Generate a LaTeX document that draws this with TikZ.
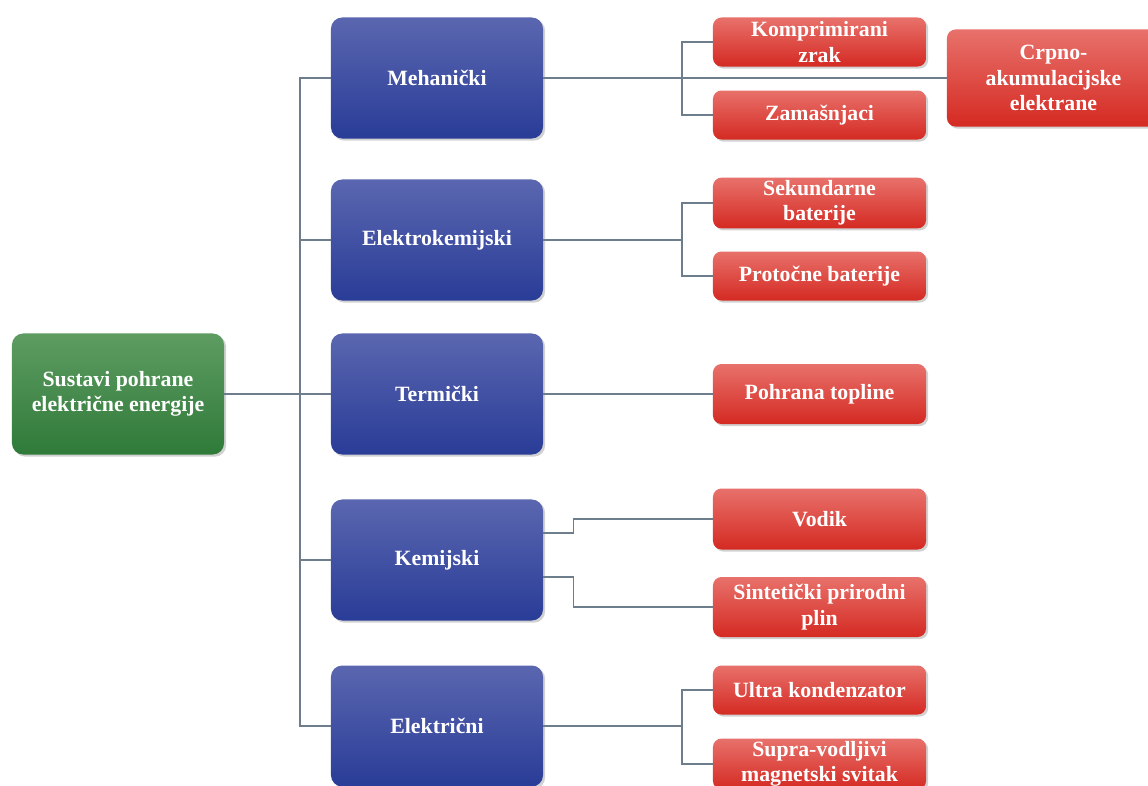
\documentclass[tikz,border=0pt]{standalone}
\usepackage{fontspec}
\setmainfont{Liberation Serif}
\usetikzlibrary{shadows}

\definecolor{zelenaGore}{HTML}{5E9C62}
\definecolor{zelenaDolje}{HTML}{2F7A39}
\definecolor{plavaGore}{HTML}{5A66AF}
\definecolor{plavaDolje}{HTML}{293C97}
\definecolor{crvenaGore}{HTML}{E8716B}
\definecolor{crvenaDolje}{HTML}{D42A22}
\definecolor{linija}{HTML}{6E7D8C}

\begin{document}
\begin{tikzpicture}[x=0.025cm,y=-0.025cm,
    kutija/.style={rounded corners=8pt, text=white, align=center, inner sep=2pt,
      font=\bfseries\fontsize{15.5}{18}\selectfont,
      drop shadow={shadow xshift=1.5pt, shadow yshift=-1.5pt, fill=black!40, opacity=0.45}},
    korijen/.style={kutija, top color=zelenaGore, bottom color=zelenaDolje,
      minimum width=5.3cm, minimum height=3.025cm},
    vrsta/.style={kutija, top color=plavaGore, bottom color=plavaDolje,
      minimum width=5.3cm, minimum height=3.025cm},
    tehnologija/.style={kutija, rounded corners=6pt, top color=crvenaGore, bottom color=crvenaDolje,
      minimum width=5.325cm, minimum height=1.225cm},
    veza/.style={draw=linija, line width=0.8pt}
  ]
  \useasboundingbox (0,0) rectangle (1148,785);

  % Glavni cvor
  \node[korijen] (sustavi) at (118,394) {Sustavi pohrane\\električne energije};

  % Vrste pohrane
  \node[vrsta] (meh) at (437,78) {Mehanički};
  \node[vrsta] (ekem) at (437,240) {Elektrokemijski};
  \node[vrsta] (term) at (437,394) {Termički};
  \node[vrsta] (kem) at (437,560) {Kemijski};
  \node[vrsta] (elek) at (437,726) {Električni};

  % Tehnologije
  \node[tehnologija] (zrak) at (819.5,42) {Komprimirani\\zrak};
  \node[tehnologija] (zam) at (819.5,115) {Zamašnjaci};
  \node[tehnologija, minimum width=5.325cm, minimum height=2.425cm] (crpno) at (1053.5,78)
    {Crpno-\\akumulacijske\\elektrane};
  \node[tehnologija] (sek) at (819.5,203) {Sekundarne\\baterije};
  \node[tehnologija] (prot) at (819.5,276) {Protočne baterije};
  \node[tehnologija, minimum height=1.5cm] (toplina) at (819.5,394) {Pohrana topline};
  \node[tehnologija, minimum height=1.525cm] (vodik) at (819.5,519) {Vodik};
  \node[tehnologija, minimum height=1.5cm] (plin) at (819.5,607) {Sintetički prirodni\\plin};
  \node[tehnologija] (kond) at (819.5,690) {Ultra kondenzator};
  \node[tehnologija] (supra) at (819.5,764) {Supra-vodljivi\\magnetski svitak};

  % Deblo
  \coordinate (deblo) at (300,394);
  \draw[veza] (sustavi.east) -- (term.west);
  \draw[veza] (meh.west) -| (deblo) |- (elek.west);
  \draw[veza] (deblo |- ekem.west) -- (ekem.west);
  \draw[veza] (deblo |- kem.west) -- (kem.west);

  % Grane
  \coordinate (g1) at (682,78);
  \coordinate (g2) at (682,240);
  \coordinate (g3) at (682,726);
  \draw[veza] (meh.east) -- (crpno.west);
  \draw[veza] (zrak.west) -| (g1) |- (zam.west);
  \draw[veza] (ekem.east) -- (g2);
  \draw[veza] (sek.west) -| (g2) |- (prot.west);
  \draw[veza] (term.east) -- (toplina.west);
  \draw[veza] ([yshift=0.675cm]kem.east) -- ++(30,0) |- (vodik.west);
  \draw[veza] ([yshift=-0.425cm]kem.east) -- ++(30,0) |- (plin.west);
  \draw[veza] (elek.east) -- (g3);
  \draw[veza] (kond.west) -| (g3) |- (supra.west);
\end{tikzpicture}
\end{document}
